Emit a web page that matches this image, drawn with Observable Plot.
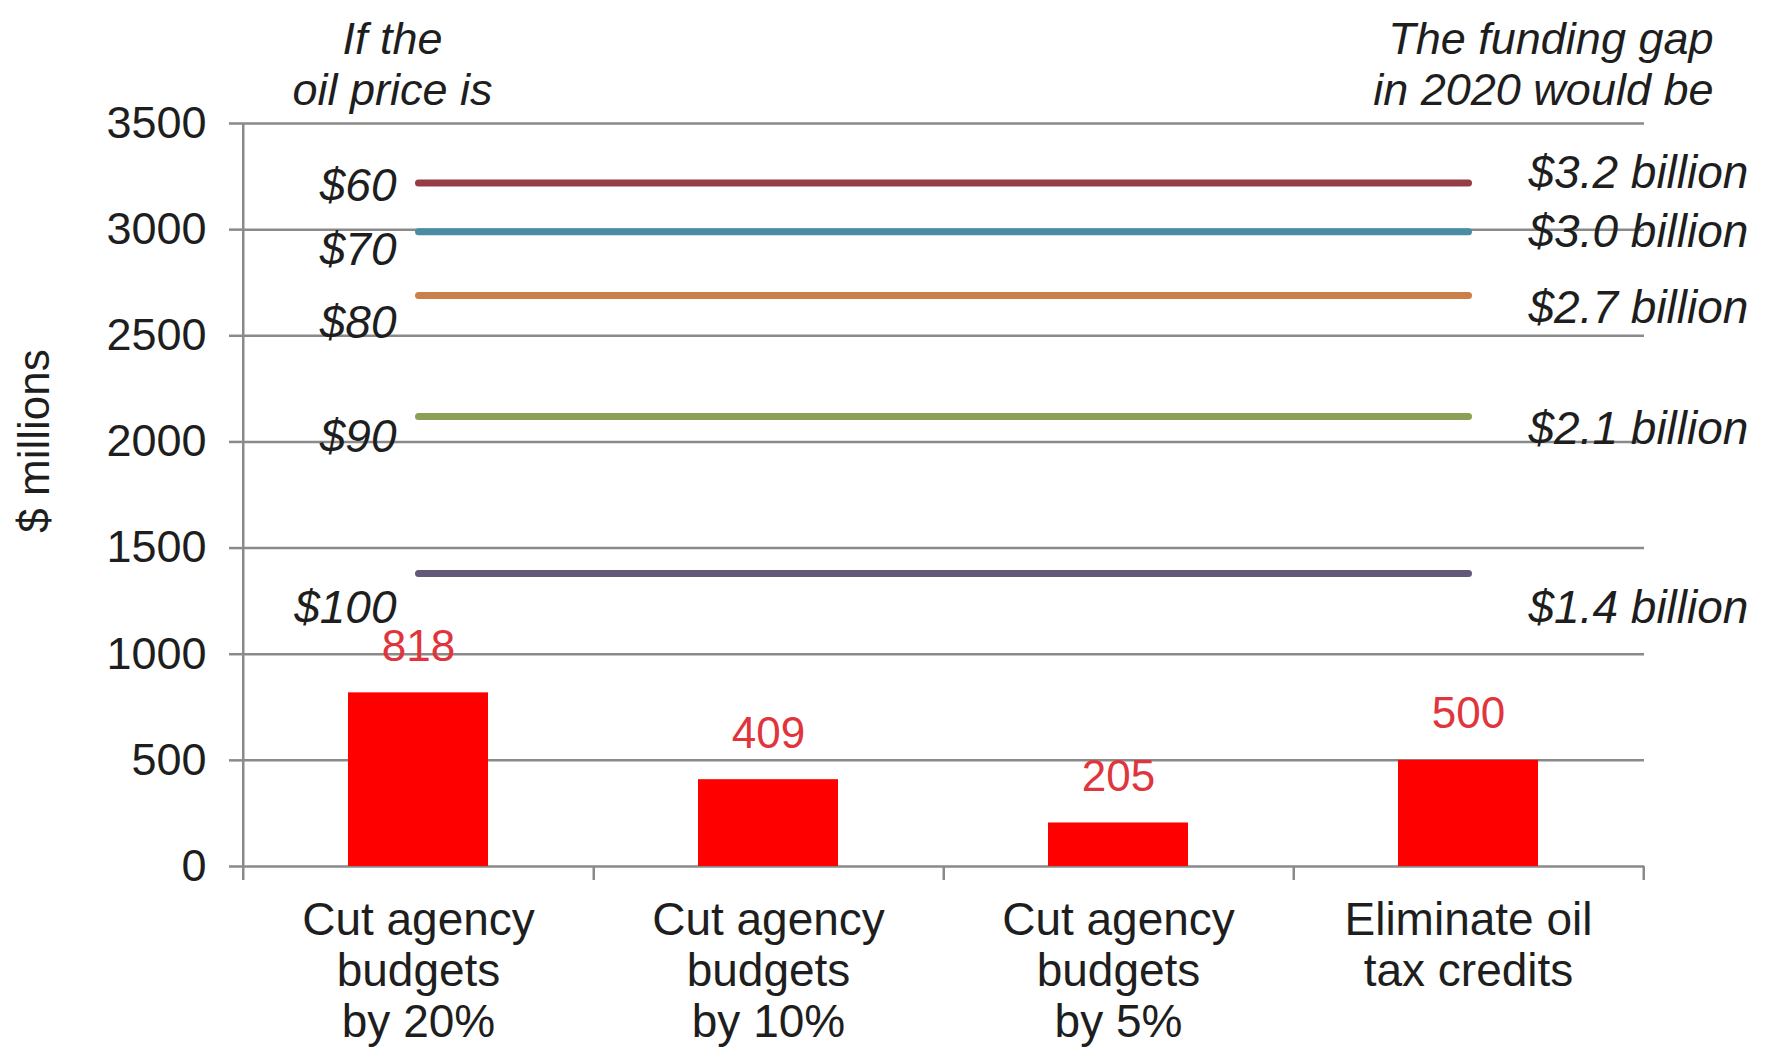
<!DOCTYPE html>
<html>
<head>
<meta charset="utf-8">
<script src="https://cdn.jsdelivr.net/npm/d3@7"></script>
<script src="https://cdn.jsdelivr.net/npm/@observablehq/plot@0.6"></script>
<style>
  html, body { margin: 0; padding: 0; background: #ffffff; }
  #chart svg { display: block; }
</style>
</head>
<body>
<div id="chart"></div>
<script>
// ---- Data ----
const categories = [
  "Cut agency\nbudgets\nby 20%",
  "Cut agency\nbudgets\nby 10%",
  "Cut agency\nbudgets\nby 5%",
  "Eliminate oil\ntax credits"
];
const savings = [818, 409, 205, 500];

const oilPrices = ["$60", "$70", "$80", "$90", "$100"];
const fundingGap = [3220, 2990, 2690, 2120, 1380];
const gapLabels = ["$3.2 billion", "$3.0 billion", "$2.7 billion", "$2.1 billion", "$1.4 billion"];

const yTicks = [0, 500, 1000, 1500, 2000, 2500, 3000, 3500];

const headerLeft = "If the\noil price is";
const headerRight = "The funding gap\nin 2020 would be";
const yLabel = "$ millions";

// ---- Styles (not data) ----
const lineColors = ["#953c46", "#4a8ca6", "#cc8049", "#8c9f57", "#625979"];
const priceLabelDy = [3, 18, 28, 21, 35];
const gapLabelDy = [-10, 0, 13, 13, 35];

const W = 1767, H = 1050;
const mL = 242, mR = 123, mT = 123, mB = 184;
const step = (W - mL - mR) / categories.length;
const font = "'Liberation Sans', Arial, Helvetica, sans-serif";
const textColor = "#1e1e1e";
const gridColor = "#8a8a8a";

// ---- Tables built from the arrays ----
const barData = categories.map((c, i) => ({category: c, value: savings[i]}));
const lineData = oilPrices.flatMap((p, i) => [
  {price: p, x: categories[0], value: fundingGap[i]},
  {price: p, x: categories[categories.length - 1], value: fundingGap[i]}
]);

const priceMarks = oilPrices.map((p, i) =>
  Plot.text([p], {
    x: () => categories[0], y: () => fundingGap[i], text: d => d,
    textAnchor: "end", dx: -22, dy: priceLabelDy[i],
    fontSize: 46, fontStyle: "italic", fill: textColor
  })
);
const gapMarks = gapLabels.map((g, i) =>
  Plot.text([g], {
    x: () => categories[categories.length - 1], y: () => fundingGap[i], text: d => d,
    textAnchor: "start", dx: 60, dy: gapLabelDy[i],
    fontSize: 46, fontStyle: "italic", fill: textColor
  })
);

const chart = Plot.plot({
  width: W,
  height: H,
  marginLeft: mL,
  marginRight: mR,
  marginTop: mT,
  marginBottom: mB,
  style: {fontFamily: font, fontSize: "44px", background: "#ffffff", color: textColor},
  x: {domain: categories, paddingInner: 0.6, paddingOuter: 0.3, axis: null},
  y: {domain: [0, 3500]},
  color: {domain: oilPrices, range: lineColors},
  marks: [
    Plot.gridY(yTicks, {stroke: gridColor, strokeOpacity: 1, strokeWidth: 2.5}),
    Plot.axisY(yTicks, {
      tickSize: 13, tickPadding: 23, stroke: gridColor, strokeWidth: 2.5,
      fill: textColor, fontSize: 45, label: null, tickFormat: d => String(d)
    }),
    // y axis line and x-axis band boundary ticks
    Plot.ruleX([categories[0]], {dx: -step / 2, stroke: gridColor, strokeWidth: 2.5, insetBottom: -14}),
    Plot.ruleX(categories, {dx: step / 2, y1: () => 0, y2: () => 0, insetBottom: -14, stroke: gridColor, strokeWidth: 2.5}),
    // funding gap lines
    Plot.lineY(lineData, {x: "x", y: "value", z: "price", stroke: "price", strokeWidth: 7, strokeLinecap: "round"}),
    // bars
    Plot.barY(barData, {x: "category", y: "value", fill: "#ff0000"}),
    Plot.text(barData, {x: "category", y: "value", text: d => String(d.value), dy: -46, fill: "#e0353d", fontSize: 44}),
    // category labels
    Plot.text(categories, {x: d => d, text: d => d, frameAnchor: "bottom", lineAnchor: "top", dy: 33, lineHeight: 1.1, fontSize: 46, fill: textColor}),
    ...priceMarks,
    ...gapMarks,
    // headers
    Plot.text([headerLeft], {text: d => d, frameAnchor: "top-left", textAnchor: "middle", lineAnchor: "middle", dx: 150, dy: -60, lineHeight: 1.13, fontSize: 45, fontStyle: "italic", fill: textColor}),
    Plot.text([headerRight], {text: d => d, frameAnchor: "top-right", textAnchor: "end", lineAnchor: "middle", dx: 69, dy: -60, lineHeight: 1.13, fontSize: 45, fontStyle: "italic", fill: textColor}),
    // y label
    Plot.text([yLabel], {text: d => d, frameAnchor: "left", textAnchor: "middle", lineAnchor: "middle", rotate: -90, dx: -208, dy: -54, fontSize: 44, fill: textColor})
  ]
});

document.getElementById("chart").appendChild(chart);
</script>
</body>
</html>
